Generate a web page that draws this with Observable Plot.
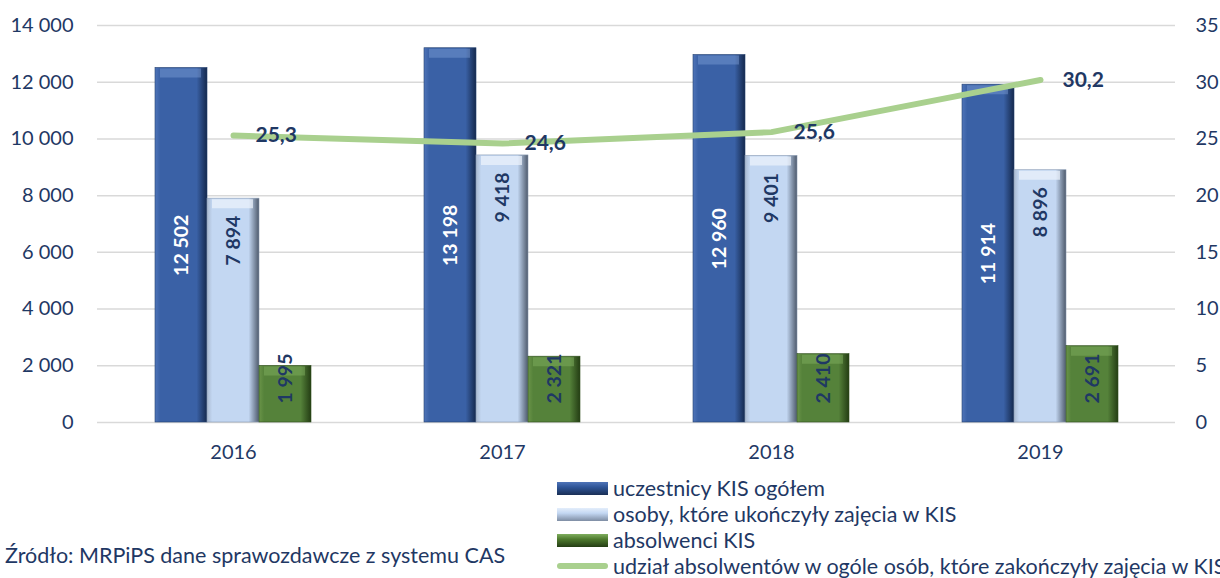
<!DOCTYPE html>
<html><head><meta charset="utf-8">
<script src="https://cdn.jsdelivr.net/npm/d3@7"></script>
<script src="https://cdn.jsdelivr.net/npm/@observablehq/plot@0.6"></script>
<style>
body{margin:0;background:#fff;width:1220px;height:578px;overflow:hidden;position:relative;font-family:Lato,"Open Sans",sans-serif;color:#1F3864;}
#chart{position:absolute;left:0;top:0;}
.legend{position:absolute;left:557px;top:475px;font-size:21.5px;white-space:nowrap;}
.row{display:flex;align-items:center;height:26px;}
.sw{width:51px;height:13px;margin-right:5px;box-sizing:border-box;flex:none;}
.caption{position:absolute;left:5px;top:542px;font-size:21.5px;white-space:nowrap;}
</style></head><body>
<div id="chart"></div>
<div class="legend" id="legend"></div>
<div class="caption">Źródło: MRPiPS dane sprawozdawcze z systemu CAS</div>
<script>
const years = ["2016", "2017", "2018", "2019"];
const uczestnicy = [12502, 13198, 12960, 11914];
const ukonczyly = [7894, 9418, 9401, 8896];
const absolwenci = [1995, 2321, 2410, 2691];
const udzial = [25.3, 24.6, 25.6, 30.2];
const seriesNames = [
  "uczestnicy KIS ogółem",
  "osoby, które ukończyły zajęcia w KIS",
  "absolwenci KIS",
  "udział absolwentów w ogóle osób, które zakończyły zajęcia w KIS"
];
const yTicks = [0, 2000, 4000, 6000, 8000, 10000, 12000, 14000];
const RATIO = 14000 / 35;

const fmt = d3.formatLocale({decimal: ",", thousands: " ", grouping: [3], currency: ["", ""]}).format(",d");
const pctFmt = d => d.toFixed(1).replace(".", ",");

const rows = arr => years.map((year, i) => ({year, value: arr[i]}));
const blue = rows(uczestnicy), light = rows(ukonczyly), green = rows(absolwenci), pct = rows(udzial);

const NAVY = "#1F3864";
const W = 52;

const svg = Plot.plot({
  width: 1220, height: 470,
  marginTop: 25, marginBottom: 48, marginLeft: 97, marginRight: 45,
  style: {fontFamily: "Lato, 'Open Sans', sans-serif", fontSize: "20px", color: NAVY, background: "white"},
  x: {domain: years, paddingInner: 1 - 52 / 269.5, paddingOuter: (1 - 52 / 269.5) / 2, label: null},
  y: {domain: [0, 14000], label: null},
  marks: [
    Plot.ruleY(yTicks, {stroke: "#D9D9D9", strokeWidth: 1.5}),
    Plot.axisY({ticks: yTicks, tickFormat: fmt, tickSize: 0, tickPadding: 24, label: null}),
    Plot.axisY({anchor: "right", ticks: yTicks, tickFormat: d => d / RATIO, tickSize: 0, tickPadding: 20, label: null}),
    Plot.axisX({tickSize: 0, tickPadding: 22, label: null}),
    Plot.barY(blue, {x: "year", y: "value", dx: -W, fill: "url(#gBlue)", stroke: "#24406F", strokeWidth: 0.6}),
    Plot.barY(light, {x: "year", y: "value", fill: "url(#gLight)", stroke: "#8A9BB3", strokeWidth: 0.6}),
    Plot.barY(green, {x: "year", y: "value", dx: W, fill: "url(#gGreen)", stroke: "#2F4F1C", strokeWidth: 0.6}),
    Plot.tickY(blue, {x: "year", y: "value", dx: -W, dy: 5, stroke: "#7F9FD6", strokeOpacity: 0.45, strokeWidth: 9, insetLeft: 5, insetRight: 6}),
    Plot.tickY(light, {x: "year", y: "value", dy: 5, stroke: "#EEF4FC", strokeOpacity: 0.7, strokeWidth: 9, insetLeft: 5, insetRight: 6}),
    Plot.tickY(green, {x: "year", y: "value", dx: W, dy: 5, stroke: "#86B463", strokeOpacity: 0.45, strokeWidth: 9, insetLeft: 5, insetRight: 6}),
    Plot.text(blue, {x: "year", y: d => d.value / 2, dx: -W, text: d => fmt(d.value), rotate: -90, fill: "white", fontWeight: "bold", fontSize: 19.5}),
    Plot.text(light, {x: "year", y: "value", dy: 17, textAnchor: "end", text: d => fmt(d.value), rotate: -90, fill: NAVY, fontWeight: "bold", fontSize: 19.5}),
    Plot.text(green, {x: "year", y: d => 0, dx: W, dy: -19, textAnchor: "start", text: d => fmt(d.value), rotate: -90, fill: NAVY, fontWeight: "bold", fontSize: 19.5}),
    Plot.line(pct, {x: "year", y: d => d.value * RATIO, stroke: "#A9D08E", strokeWidth: 6, strokeLinecap: "round"}),
    Plot.text(pct, {x: "year", y: d => d.value * RATIO, dx: 22, textAnchor: "start", text: d => pctFmt(d.value), fill: NAVY, fontWeight: "bold", fontSize: 21})
  ]
});

d3.select(svg).insert("defs", ":first-child").html(`
  <linearGradient id="gBlue" x1="0" x2="1" y1="0" y2="0">
    <stop offset="0" stop-color="#4F74B8"/><stop offset="0.1" stop-color="#3A61A6"/>
    <stop offset="0.8" stop-color="#3A61A6"/><stop offset="1" stop-color="#15294D"/>
  </linearGradient>
  <linearGradient id="gLight" x1="0" x2="1" y1="0" y2="0">
    <stop offset="0" stop-color="#A9B9D0"/><stop offset="0.1" stop-color="#C3D7F2"/>
    <stop offset="0.8" stop-color="#C3D7F2"/><stop offset="1" stop-color="#4E5A6C"/>
  </linearGradient>
  <linearGradient id="gGreen" x1="0" x2="1" y1="0" y2="0">
    <stop offset="0" stop-color="#6A9448"/><stop offset="0.1" stop-color="#55823A"/>
    <stop offset="0.8" stop-color="#55823A"/><stop offset="1" stop-color="#243D14"/>
  </linearGradient>`);
document.getElementById("chart").appendChild(svg);

const swatchBg = [
  "linear-gradient(to bottom, #4F74B8, #2F5597 40%, #1A2F55)",
  "linear-gradient(to bottom, #E4EEFB, #C3D7F2 40%, #7E8DA3)",
  "linear-gradient(to bottom, #7FAE5E, #4E7A2E 40%, #243D14)"
];
const legend = d3.select("#legend");
seriesNames.forEach((name, i) => {
  const row = legend.append("div").attr("class", "row");
  if (i < 3) {
    row.append("div").attr("class", "sw").style("background", swatchBg[i]);
  } else {
    row.append("div").attr("class", "sw").style("height", "6px").style("border-radius", "3px").style("background", "#A9D08E");
  }
  row.append("span").text(name);
});
</script>
</body></html>
